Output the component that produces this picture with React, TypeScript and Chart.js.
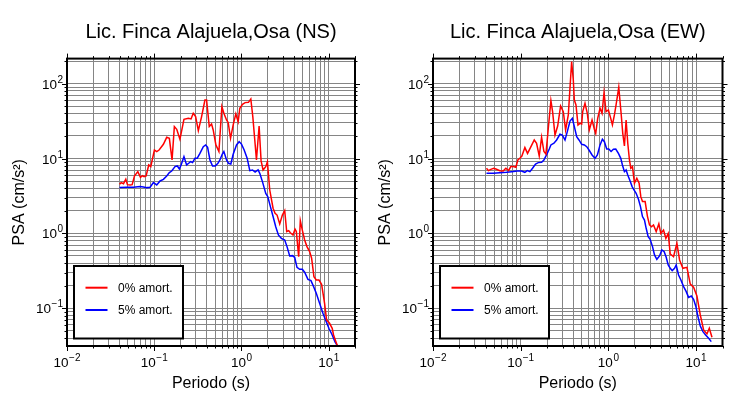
import React, { useEffect, useRef } from 'react';
import { Chart, registerables } from 'chart.js';

Chart.register(...registerables);

// ---------- DATA ----------
const titles = ['Lic. Finca Alajuela,Osa (NS)', 'Lic. Finca Alajuela,Osa (EW)'];
const legendLabels = ['0% amort.', '5% amort.'];
const xAxisTitle = 'Periodo (s)';
const yAxisTitle = 'PSA (cm/s²)';

// NS component, 0% damping
const nsPeriod0 = [0.0400, 0.0418, 0.0444, 0.0472, 0.0493, 0.0530, 0.0558, 0.0593, 0.0648, 0.0695, 0.0733, 0.0765, 0.0807, 0.0865, 0.0912, 0.1004, 0.1068, 0.1136, 0.1273, 0.139, 0.149, 0.160, 0.170, 0.181, 0.197, 0.219, 0.246, 0.264, 0.280, 0.298, 0.320, 0.349, 0.381, 0.398, 0.427, 0.454, 0.474, 0.509, 0.551, 0.596, 0.628, 0.674, 0.704, 0.749, 0.803, 0.861, 0.916, 0.957, 1.027, 1.101, 1.202, 1.279, 1.348, 1.420, 1.484, 1.592, 1.678, 1.768, 1.897, 1.982, 2.108, 2.301, 2.426, 2.557, 2.743, 2.942, 3.128, 3.297, 3.475, 3.631, 3.896, 4.106, 4.253, 4.522, 4.724, 4.980, 5.294, 5.629, 6.039, 6.365, 6.767, 7.196, 7.720, 8.282, 8.963, 9.445, 10.22, 10.96, 11.36, 11.97, 12.6, 15.0];
const nsPsa0 = [4.53, 4.77, 4.62, 5.28, 4.48, 4.44, 4.48, 5.85, 6.68, 5.61, 5.91, 5.73, 5.85, 8.21, 7.80, 13.0, 12.4, 13.0, 15.5, 19.2, 18.6, 9.57, 26.7, 24.6, 18.1, 33.4, 34.4, 33.8, 40.2, 36.3, 23.6, 36.3, 60.5, 60.5, 26.7, 28.9, 24.1, 15.2, 12.4, 49.3, 40.2, 32.7, 30.2, 18.6, 28.1, 39.4, 31.1, 46.9, 53.0, 55.8, 56.3, 62.4, 36.3, 17.7, 9.57, 27.2, 9.3, 7.04, 7.80, 9.09, 3.80, 2.17, 1.86, 1.76, 1.34, 1.76, 2.02, 1.06, 1.09, 1.02, 0.954, 1.14, 1.06, 0.490, 1.48, 1.11, 0.818, 0.667, 0.571, 0.466, 0.265, 0.239, 0.239, 0.209, 0.1167, 0.070, 0.0631, 0.0541, 0.0441, 0.0370, 0.0314, 0.019];

// NS component, 5% damping
const nsPeriod5 = [0.0400, 0.0485, 0.0578, 0.0689, 0.0752, 0.0821, 0.0896, 0.0978, 0.1068, 0.1166, 0.1273, 0.139, 0.149, 0.1585, 0.173, 0.184, 0.194, 0.203, 0.219, 0.235, 0.248, 0.261, 0.275, 0.293, 0.311, 0.334, 0.365, 0.388, 0.409, 0.435, 0.466, 0.500, 0.537, 0.566, 0.601, 0.628, 0.674, 0.710, 0.755, 0.803, 0.877, 0.940, 1.0, 1.073, 1.161, 1.245, 1.336, 1.433, 1.550, 1.620, 1.738, 1.897, 2.0, 2.145, 2.301, 2.469, 2.648, 2.865, 3.128, 3.326, 3.567, 3.827, 4.07, 4.327, 4.642, 4.98, 5.294, 5.78, 6.256, 6.708, 7.196, 7.857, 8.577, 9.363, 10.04, 10.96, 11.76, 12.6, 15.0];
const nsPsa5 = [4.09, 4.13, 4.13, 4.22, 4.17, 4.09, 4.13, 4.77, 4.44, 5.02, 5.28, 5.85, 6.48, 6.82, 7.80, 7.96, 7.26, 8.21, 10.6, 8.21, 8.64, 9.09, 8.82, 10.1, 10.1, 11.7, 14.4, 15.2, 14.1, 9.57, 7.96, 7.96, 8.64, 9.57, 11.4, 12.4, 9.57, 8.64, 8.46, 11.4, 15.2, 16.8, 15.6, 13.0, 10.1, 6.89, 7.04, 6.62, 7.04, 6.35, 4.92, 3.43, 3.10, 2.28, 1.68, 1.23, 0.954, 0.861, 0.818, 0.667, 0.500, 0.505, 0.480, 0.353, 0.332, 0.332, 0.303, 0.244, 0.234, 0.195, 0.159, 0.1167, 0.0858, 0.0664, 0.0541, 0.0441, 0.0359, 0.0314, 0.019];

// EW component, 0% damping
const ewPeriod0 = [0.0407, 0.0429, 0.0456, 0.0493, 0.0530, 0.0578, 0.0631, 0.0677, 0.0726, 0.0772, 0.0821, 0.0881, 0.0928, 0.0978, 0.1031, 0.1116, 0.1197, 0.1296, 0.1427, 0.1517, 0.1627, 0.173, 0.184, 0.194, 0.206, 0.221, 0.231, 0.246, 0.264, 0.285, 0.306, 0.325, 0.349, 0.381, 0.398, 0.409, 0.427, 0.450, 0.474, 0.496, 0.509, 0.541, 0.575, 0.606, 0.651, 0.692, 0.717, 0.755, 0.803, 0.846, 0.892, 0.940, 1.0, 1.063, 1.111, 1.171, 1.223, 1.313, 1.396, 1.458, 1.523, 1.592, 1.663, 1.738, 1.800, 1.881, 1.982, 2.108, 2.241, 2.342, 2.447, 2.624, 2.791, 2.942, 3.10, 3.268, 3.506, 3.76, 3.963, 4.253, 4.522, 4.808, 5.07, 5.53, 6.04, 6.48, 7.07, 7.86, 8.58, 9.36, 10.22, 11.16, 12.18, 13.30, 14.14, 15.17];
const ewPsa0 = [7.41, 6.89, 7.18, 7.41, 7.18, 6.89, 6.82, 7.41, 6.89, 7.80, 7.80, 7.64, 9.57, 10.1, 10.8, 14.0, 11.7, 14.1, 17.7, 16.0, 10.8, 19.2, 12.4, 11.5, 24.8, 59.3, 42.3, 20.6, 27.2, 50.3, 42.3, 24.1, 38.2, 196.7, 112, 60.5, 51.9, 28.1, 29.5, 28.9, 42.3, 54.6, 40.2, 24.1, 32.7, 24.6, 21.7, 34.4, 46.9, 40.2, 75.8, 42.3, 44.5, 34.4, 28.1, 38.2, 51.9, 89.3, 40.2, 21.7, 14.7, 32.7, 16.0, 9.57, 7.41, 7.80, 4.67, 5.45, 4.67, 3.10, 2.66, 2.66, 1.68, 1.30, 1.23, 1.30, 1.06, 1.34, 1.0, 1.11, 0.861, 1.0, 0.532, 0.490, 0.738, 0.442, 0.342, 0.353, 0.211, 0.191, 0.146, 0.0815, 0.0514, 0.0455, 0.0541, 0.0411];

// EW component, 5% damping
const ewPeriod5 = [0.0407, 0.0485, 0.0578, 0.0689, 0.0786, 0.0912, 0.1022, 0.1116, 0.1187, 0.1273, 0.1365, 0.1477, 0.1585, 0.173, 0.184, 0.197, 0.2117, 0.221, 0.2393, 0.2568, 0.2803, 0.298, 0.320, 0.340, 0.365, 0.388, 0.409, 0.435, 0.462, 0.496, 0.532, 0.566, 0.606, 0.651, 0.704, 0.749, 0.803, 0.854, 0.900, 0.957, 1.009, 1.073, 1.141, 1.213, 1.301, 1.384, 1.445, 1.523, 1.592, 1.663, 1.768, 1.864, 1.965, 2.071, 2.202, 2.321, 2.447, 2.578, 2.695, 2.841, 2.994, 3.184, 3.356, 3.567, 3.827, 4.07, 4.327, 4.56, 4.808, 5.07, 5.34, 5.68, 5.93, 6.31, 6.71, 7.20, 7.72, 8.21, 8.81, 9.36, 9.96, 10.5, 11.16, 11.97, 12.84, 13.9, 14.9];
const ewPsa5 = [6.35, 6.35, 6.48, 6.55, 6.68, 6.82, 6.82, 6.55, 6.89, 6.68, 7.41, 8.46, 8.82, 8.91, 9.57, 11.16, 13.4, 15.2, 16.0, 17.7, 21.1, 20.6, 17.7, 22.9, 31.7, 34.4, 26.7, 19.6, 17.7, 15.5, 15.2, 14.4, 12.8, 11.16, 10.07, 11.16, 15.2, 18.1, 16.8, 13.4, 13.4, 12.4, 13.3, 13.4, 11.7, 10.07, 8.21, 6.68, 7.04, 6.03, 5.02, 4.22, 3.80, 3.43, 2.86, 2.28, 1.68, 1.51, 1.171, 0.906, 0.835, 0.667, 0.516, 0.451, 0.500, 0.602, 0.571, 0.480, 0.379, 0.342, 0.319, 0.342, 0.379, 0.279, 0.239, 0.195, 0.167, 0.140, 0.146, 0.132, 0.105, 0.0775, 0.0581, 0.0489, 0.0441, 0.0398, 0.0359];

// axis ranges and tick labels
const xMin = 0.01;
const xMax = 20;
const yMin = 0.0314;
const yMax = 216;
const gridMultipliers = [1, 2, 3, 4, 5, 6, 7, 8, 9];
const xDecades = [-2, -1, 0, 1];
const yDecades = [-2, -1, 0, 1, 2];
const xLabelValues = [0.01, 0.1, 1, 10];
const xLabelExps = ['\u22122', '\u22121', '0', '1'];
const yLabelValues = [0.1, 1, 10, 100];
const yLabelExps = ['\u22121', '0', '1', '2'];

// ---------- STYLE ----------
const FAM = '"Liberation Sans", Arial, Helvetica, sans-serif';
const RED = '#ff0000';
const BLUE = '#0000ff';
const GRID = '#858585';

function buildTicks(decades: number[], min: number, max: number) {
  const out: { value: number; major: boolean }[] = [];
  for (const d of decades) {
    for (const m of gridMultipliers) {
      const v = m * Math.pow(10, d);
      if (v >= min * 0.9999 && v <= max * 1.0001) out.push({ value: v, major: m === 1 });
    }
  }
  return out;
}

function drawPow(ctx: CanvasRenderingContext2D, exp: string, x: number, y: number, align: 'center' | 'right') {
  ctx.font = `13.5px ${FAM}`;
  const w1 = ctx.measureText('10').width;
  ctx.font = `10px ${FAM}`;
  const w2 = ctx.measureText(exp).width;
  const total = w1 + 0.5 + w2;
  const x0 = align === 'center' ? x - total / 2 : x - total;
  ctx.textAlign = 'left';
  ctx.textBaseline = 'middle';
  ctx.fillStyle = '#000';
  ctx.font = `13.5px ${FAM}`;
  ctx.fillText('10', x0, y);
  ctx.font = `10px ${FAM}`;
  ctx.fillText(exp, x0 + w1 + 0.5, y - 5);
}

function makePlugin(title: string) {
  return {
    id: 'frameAndDecor',
    afterDraw(chart: any) {
      const ctx: CanvasRenderingContext2D = chart.ctx;
      const { left, right, top, bottom } = chart.chartArea;
      const xs = chart.scales.x;
      const ys = chart.scales.y;
      ctx.save();
      // outward tick marks on all four sides
      ctx.strokeStyle = '#000';
      ctx.lineWidth = 1;
      ctx.beginPath();
      for (const t of xs.ticks) {
        const px = Math.round(xs.getPixelForValue(t.value)) + 0.5;
        const len = t.major ? 5 : 2.5;
        ctx.moveTo(px, bottom);
        ctx.lineTo(px, bottom + len);
        ctx.moveTo(px, top);
        ctx.lineTo(px, top - len);
      }
      for (const t of ys.ticks) {
        const py = Math.round(ys.getPixelForValue(t.value)) + 0.5;
        const len = t.major ? 5 : 2.5;
        ctx.moveTo(left, py);
        ctx.lineTo(left - len, py);
        ctx.moveTo(right, py);
        ctx.lineTo(right + len, py);
      }
      ctx.stroke();
      // frame
      ctx.lineWidth = 2;
      ctx.strokeRect(left, top, right - left, bottom - top);
      // tick labels
      xLabelValues.forEach((v, i) => {
        drawPow(ctx, xLabelExps[i], xs.getPixelForValue(v), bottom + 17, 'center');
      });
      yLabelValues.forEach((v, i) => {
        drawPow(ctx, yLabelExps[i], left - 4, ys.getPixelForValue(v) + 1.3, 'right');
      });
      // title
      ctx.fillStyle = '#000';
      ctx.font = `20px ${FAM}`;
      ctx.textAlign = 'center';
      ctx.textBaseline = 'middle';
      ctx.fillText(title, (left + right) / 2, 32.5);
      // legend
      const bx = left + 7;
      const by = bottom - 80;
      const bw = 109;
      const bh = 72.5;
      ctx.fillStyle = '#fff';
      ctx.fillRect(bx, by, bw, bh);
      ctx.strokeStyle = '#000';
      ctx.lineWidth = 2;
      ctx.strokeRect(bx, by, bw, bh);
      const rows = [by + 21.7, by + 44];
      chart.data.datasets.forEach((ds: any, i: number) => {
        ctx.strokeStyle = ds.borderColor;
        ctx.lineWidth = 2;
        ctx.beginPath();
        ctx.moveTo(bx + 11.5, rows[i]);
        ctx.lineTo(bx + 33.5, rows[i]);
        ctx.stroke();
        ctx.fillStyle = '#000';
        ctx.font = `12px ${FAM}`;
        ctx.textAlign = 'left';
        ctx.textBaseline = 'middle';
        ctx.fillText(ds.label, bx + 44, rows[i] + 0.5);
      });
      ctx.restore();
    },
  };
}

function toPoints(xs: number[], ys: number[]) {
  const n = Math.min(xs.length, ys.length);
  const pts: { x: number; y: number }[] = [];
  for (let i = 0; i < n; i++) pts.push({ x: xs[i], y: ys[i] });
  return pts;
}

interface PanelProps {
  title: string;
  p0: number[];
  a0: number[];
  p5: number[];
  a5: number[];
  left: number;
  width: number;
  rightPad: number;
}

function Panel({ title, p0, a0, p5, a5, left, width, rightPad }: PanelProps) {
  const ref = useRef<HTMLCanvasElement>(null);
  useEffect(() => {
    if (!ref.current) return;
    const xTicks = buildTicks(xDecades, xMin, xMax);
    const yTicks = buildTicks(yDecades, yMin, yMax);
    const chart = new Chart(ref.current, {
      type: 'line',
      data: {
        datasets: [
          {
            label: legendLabels[0],
            data: toPoints(p0, a0),
            borderColor: RED,
            borderWidth: 1.5,
            pointRadius: 0,
            tension: 0,
            fill: false,
          },
          {
            label: legendLabels[1],
            data: toPoints(p5, a5),
            borderColor: BLUE,
            borderWidth: 1.5,
            pointRadius: 0,
            tension: 0,
            fill: false,
          },
        ],
      },
      options: {
        responsive: false,
        animation: false,
        devicePixelRatio: 1,
        parsing: false as any,
        layout: { padding: { top: 58.6, right: rightPad, left: 0, bottom: 0 } },
        plugins: {
          legend: { display: false },
          title: { display: false },
          tooltip: { enabled: false },
        },
        scales: {
          x: {
            type: 'logarithmic',
            position: 'bottom',
            min: xMin,
            max: xMax,
            bounds: 'data',
            afterBuildTicks: (s: any) => {
              s.ticks = xTicks.map((t) => ({ ...t }));
            },
            afterFit: (s: any) => {
              s.height = 54;
            },
            ticks: { display: false, autoSkip: false },
            grid: { color: GRID, lineWidth: 1, drawTicks: false },
            border: { display: false },
            title: {
              display: true,
              text: xAxisTitle,
              color: '#000',
              font: { family: FAM, size: 16 },
              padding: { top: 0, bottom: 7 },
            },
          },
          y: {
            type: 'logarithmic',
            position: 'left',
            min: yMin,
            max: yMax,
            bounds: 'data',
            afterBuildTicks: (s: any) => {
              s.ticks = yTicks.map((t) => ({ ...t }));
            },
            afterFit: (s: any) => {
              s.width = 67;
            },
            ticks: { display: false, autoSkip: false },
            grid: { color: GRID, lineWidth: 1, drawTicks: false },
            border: { display: false },
            title: {
              display: true,
              text: yAxisTitle,
              color: '#000',
              font: { family: FAM, size: 16 },
              padding: { top: 9.5, bottom: 0 },
            },
          },
        },
      } as any,
      plugins: [makePlugin(title)],
    });
    return () => chart.destroy();
  }, []);
  return (
    <canvas
      ref={ref}
      width={width}
      height={400}
      style={{ position: 'absolute', left, top: 0, width, height: 400, display: 'block' }}
    />
  );
}

export default function App() {
  return (
    <div style={{ position: 'absolute', left: 0, top: 0, width: 730, height: 400, background: '#fff', overflow: 'hidden' }}>
      <Panel title={titles[0]} p0={nsPeriod0} a0={nsPsa0} p5={nsPeriod5} a5={nsPsa5} left={0} width={365} rightPad={10} />
      <Panel title={titles[1]} p0={ewPeriod0} a0={ewPsa0} p5={ewPeriod5} a5={ewPsa5} left={366} width={364} rightPad={7.5} />
    </div>
  );
}
